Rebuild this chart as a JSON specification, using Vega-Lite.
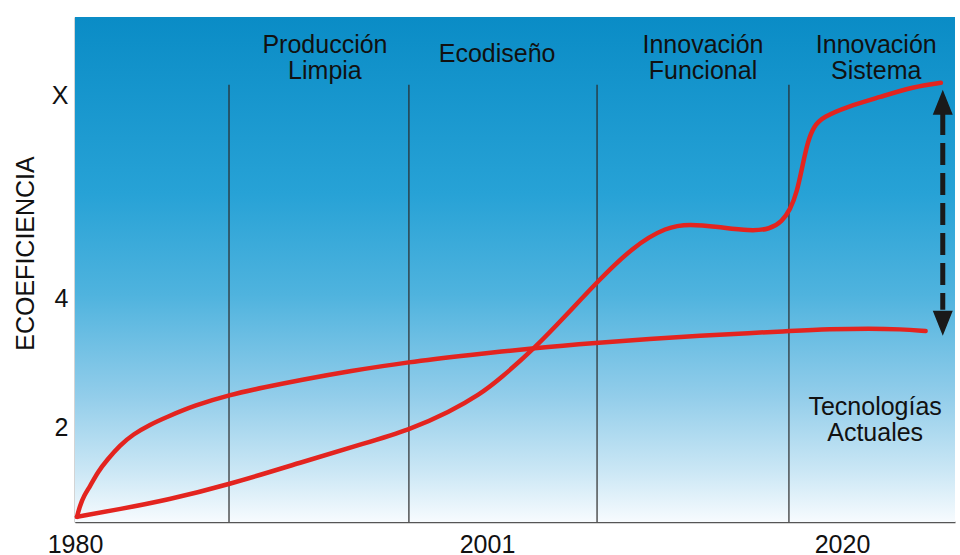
{
  "$schema": "https://vega.github.io/schema/vega-lite/v6.json",
  "width": 880,
  "height": 505,
  "autosize": {"type": "none"},
  "padding": {"left": 75, "top": 17, "right": 5, "bottom": 33},
  "background": "white",
  "config": {"view": {"stroke": null}, "font": "Liberation Sans"},
  "datasets": {
    "curves": [
      {"serie": "actual", "year": 1980.10, "eco": 0.62},
      {"serie": "actual", "year": 1980.25, "eco": 0.79},
      {"serie": "actual", "year": 1980.46, "eco": 0.95},
      {"serie": "actual", "year": 1980.76, "eco": 1.09},
      {"serie": "actual", "year": 1981.17, "eco": 1.32},
      {"serie": "actual", "year": 1981.63, "eco": 1.50},
      {"serie": "actual", "year": 1982.29, "eco": 1.73},
      {"serie": "actual", "year": 1982.96, "eco": 1.90},
      {"serie": "actual", "year": 1983.82, "eco": 2.05},
      {"serie": "actual", "year": 1984.69, "eco": 2.17},
      {"serie": "actual", "year": 1986.12, "eco": 2.35},
      {"serie": "actual", "year": 1987.85, "eco": 2.51},
      {"serie": "actual", "year": 1989.68, "eco": 2.63},
      {"serie": "actual", "year": 1991.47, "eco": 2.74},
      {"serie": "actual", "year": 1994.02, "eco": 2.88},
      {"serie": "actual", "year": 1996.97, "eco": 3.02},
      {"serie": "actual", "year": 2000.13, "eco": 3.13},
      {"serie": "actual", "year": 2003.57, "eco": 3.24},
      {"serie": "actual", "year": 2006.89, "eco": 3.32},
      {"serie": "actual", "year": 2009.72, "eco": 3.38},
      {"serie": "actual", "year": 2012.40, "eco": 3.43},
      {"serie": "actual", "year": 2015.08, "eco": 3.47},
      {"serie": "actual", "year": 2017.16, "eco": 3.50},
      {"serie": "actual", "year": 2019.36, "eco": 3.53},
      {"serie": "actual", "year": 2021.50, "eco": 3.54},
      {"serie": "actual", "year": 2023.10, "eco": 3.53},
      {"serie": "actual", "year": 2024.44, "eco": 3.50},
      {"serie": "innov", "year": 1980.10, "eco": 0.62},
      {"serie": "innov", "year": 1982.29, "eco": 0.74},
      {"serie": "innov", "year": 1984.69, "eco": 0.88},
      {"serie": "innov", "year": 1987.85, "eco": 1.12},
      {"serie": "innov", "year": 1991.47, "eco": 1.46},
      {"serie": "innov", "year": 1994.88, "eco": 1.77},
      {"serie": "innov", "year": 1996.97, "eco": 1.96},
      {"serie": "innov", "year": 1999.11, "eco": 2.25},
      {"serie": "innov", "year": 2000.64, "eco": 2.52},
      {"serie": "innov", "year": 2001.70, "eco": 2.76},
      {"serie": "innov", "year": 2003.57, "eco": 3.24},
      {"serie": "innov", "year": 2005.28, "eco": 3.76},
      {"serie": "innov", "year": 2006.89, "eco": 4.26},
      {"serie": "innov", "year": 2008.81, "eco": 4.81},
      {"serie": "innov", "year": 2010.63, "eco": 5.12},
      {"serie": "innov", "year": 2011.86, "eco": 5.16},
      {"serie": "innov", "year": 2013.31, "eco": 5.12},
      {"serie": "innov", "year": 2015.08, "eco": 5.05},
      {"serie": "innov", "year": 2016.15, "eco": 5.08},
      {"serie": "innov", "year": 2016.79, "eco": 5.20},
      {"serie": "innov", "year": 2017.22, "eco": 5.38},
      {"serie": "innov", "year": 2017.59, "eco": 5.65},
      {"serie": "innov", "year": 2017.91, "eco": 6.10},
      {"serie": "innov", "year": 2018.18, "eco": 6.45},
      {"serie": "innov", "year": 2018.50, "eco": 6.68},
      {"serie": "innov", "year": 2018.98, "eco": 6.82},
      {"serie": "innov", "year": 2020.27, "eco": 6.98},
      {"serie": "innov", "year": 2022.03, "eco": 7.13},
      {"serie": "innov", "year": 2023.80, "eco": 7.29},
      {"serie": "innov", "year": 2025.25, "eco": 7.35}
    ],
    "phases": [
      {"year": 1987.85},
      {"year": 1997.02},
      {"year": 2006.89},
      {"year": 2017.16}
    ],
    "labels": [
      {"text": "Producción\nLimpia", "year": 1992.74, "eco": 7.81},
      {"text": "Ecodiseño", "year": 2001.54, "eco": 7.67},
      {"text": "Innovación\nFuncional", "year": 2012.56, "eco": 7.81},
      {"text": "Innovación\nSistema", "year": 2021.82, "eco": 7.81},
      {"text": "Tecnologías\nActuales", "year": 2021.76, "eco": 2.20}
    ],
    "arrowShaft": [
      {"year": 2025.35, "top": 6.88, "bottom": 3.83}
    ],
    "arrowHeads": [
      {"year": 2025.35, "eco": 7.05, "dir": "up"},
      {"year": 2025.35, "eco": 3.62, "dir": "down"}
    ]
  },
  "layer": [
    {
      "data": {"values": [{"a": 1}]},
      "mark": {
        "type": "rect",
        "color": {
          "gradient": "linear",
          "x1": 0, "y1": 0, "x2": 0, "y2": 1,
          "stops": [
            {"offset": 0, "color": "#0a8cc6"},
            {"offset": 0.35, "color": "#27a2d6"},
            {"offset": 0.55, "color": "#4fb3de"},
            {"offset": 0.75, "color": "#92cdea"},
            {"offset": 0.9, "color": "#cbe7f5"},
            {"offset": 1, "color": "#f7fbfe"}
          ]
        }
      },
      "encoding": {
        "x": {"datum": 1980, "type": "quantitative",
          "scale": {"domain": [1980, 2001, 2020, 2026], "range": [0, 412, 767, 880], "nice": false, "zero": false},
          "axis": {"values": [1980, 2001, 2020], "format": "d", "title": null, "grid": false, "ticks": false,
            "labelFontSize": 25, "labelColor": "#111111", "labelPadding": 10, "labelFlush": false,
            "domainColor": "#555555", "domainWidth": 1.5}},
        "x2": {"datum": 2026},
        "y": {"datum": 0.54, "type": "quantitative",
          "scale": {"domain": [0.54, 8.37], "nice": false, "zero": false},
          "axis": {"values": [2, 4, 7.16], "labelExpr": "datum.value > 7 ? 'X' : format(datum.value, 'd')", "grid": false, "ticks": false,
            "labelFontSize": 25, "labelColor": "#111111", "labelPadding": 7,
            "domainColor": "#555555", "domainWidth": 1.5,
            "title": "ECOEFICIENCIA", "titleFontSize": 25, "titleFontWeight": "normal", "titleColor": "#111111", "titlePadding": 13, "titleY": 236}},
        "y2": {"datum": 8.37}
      }
    },
    {
      "data": {"name": "phases"},
      "mark": {"type": "rule", "color": "#2a2a2a", "strokeWidth": 1.2},
      "encoding": {
        "x": {"field": "year", "type": "quantitative"},
        "y": {"datum": 7.32, "type": "quantitative"},
        "y2": {"datum": 0.54}
      }
    },
    {
      "data": {"name": "curves"},
      "mark": {"type": "line", "color": "#e3241f", "strokeWidth": 4.5, "interpolate": "basis", "strokeCap": "round"},
      "encoding": {
        "x": {"field": "year", "type": "quantitative"},
        "y": {"field": "eco", "type": "quantitative"},
        "detail": {"field": "serie"}
      }
    },
    {
      "data": {"name": "arrowShaft"},
      "mark": {"type": "rule", "color": "#1a1a1a", "strokeWidth": 5, "strokeDash": [22, 8]},
      "encoding": {
        "x": {"field": "year", "type": "quantitative"},
        "y": {"field": "top", "type": "quantitative"},
        "y2": {"field": "bottom"}
      }
    },
    {
      "data": {"name": "arrowHeads"},
      "mark": {"type": "point", "filled": true, "color": "#1a1a1a", "size": 625, "opacity": 1},
      "encoding": {
        "x": {"field": "year", "type": "quantitative"},
        "y": {"field": "eco", "type": "quantitative"},
        "shape": {"field": "dir", "type": "nominal",
          "scale": {"domain": ["up", "down"], "range": ["M0,-1L0.8,1L-0.8,1Z", "M0,1L0.8,-1L-0.8,-1Z"]},
          "legend": null}
      }
    },
    {
      "data": {"name": "labels"},
      "mark": {"type": "text", "fontSize": 25, "color": "#111111", "align": "center", "baseline": "alphabetic", "lineBreak": "\n", "lineHeight": 26},
      "encoding": {
        "x": {"field": "year", "type": "quantitative"},
        "y": {"field": "eco", "type": "quantitative"},
        "text": {"field": "text"}
      }
    }
  ]
}
